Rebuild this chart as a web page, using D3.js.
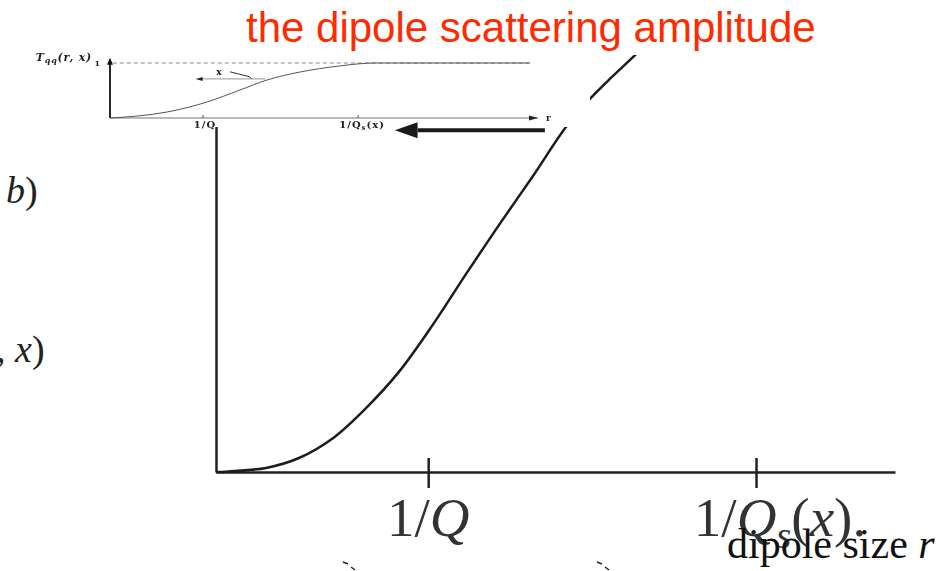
<!DOCTYPE html>
<html>
<head>
<meta charset="utf-8">
<script src="https://cdn.jsdelivr.net/npm/d3@7"></script>
<style>
  body { margin: 0; background: #fff; }
  svg { display: block; }
</style>
</head>
<body>
<script>
// Dipole scattering amplitude N(r, x) as a function of the dipole size r.
const mainR = [0, 0.047, 0.236, 0.391, 0.551, 0.707, 0.862, 1.023, 1.178, 1.334, 1.494, 1.650, 1.758, 1.866, 1.975, 2.092];
const mainN = [0, 0.001, 0.012, 0.041, 0.099, 0.187, 0.293, 0.432, 0.579, 0.723, 0.866, 1.010, 1.089, 1.156, 1.220, 1.290];
const mainTicks = [1, 2.545];
// tick labels as (text, style) runs: n = upright, i = italic, s = subscript
const mainTickLabels = [
  [["1/", "n"], ["Q", "i"]],
  [["1/", "n"], ["Q", "i"], ["s", "s"], ["(", "n"], ["x", "i"], [").", "n"]]
];

// Small panel: T_qq(r, x) saturating at 1
const insetR = [0, 0.613, 1.043, 1.397, 1.688, 2.042, 2.462, 2.849, 4.516];
const insetT = [0, 0.109, 0.291, 0.509, 0.691, 0.836, 0.945, 1.0, 1.0];
const insetTicks = [1, 2.667];
const insetTickLabels = [
  [["1/", "n"], ["Q", "n"]],
  [["1/", "n"], ["Q", "n"], ["s", "s"], ["(x)", "n"]]
];

const W = 947, H = 571;
const svg = d3.select("body").append("svg")
  .attr("width", W).attr("height", H)
  .style("font-family", "'Liberation Serif', 'Times New Roman', serif");

const x = d3.scaleLinear().domain([0, 3.2]).range([216, 895]);
const y = d3.scaleLinear().domain([0, 1.03]).range([472, 120]);

function richText(sel, runs, size, subShift) {
  let shifted = false;
  runs.forEach(([t, st]) => {
    const ts = sel.append("tspan").text(t);
    if (st === "i") ts.attr("font-style", "italic");
    if (st === "s") {
      ts.attr("font-style", "italic").attr("font-size", size * 0.7).attr("dy", subShift);
      shifted = true;
    } else if (shifted) {
      ts.attr("dy", -subShift);
      shifted = false;
    }
  });
}

// ---- main plot ----
const main = svg.append("g");

const xAxis = main.append("g")
  .attr("transform", `translate(0,${y(0)})`)
  .call(d3.axisBottom(x).tickValues(mainTicks).tickSizeInner(16).tickSizeOuter(0).tickFormat(() => ""));
xAxis.select(".domain").attr("stroke", "#222").attr("stroke-width", 2.5);
xAxis.selectAll(".tick line").attr("y1", -14).attr("y2", 16)
  .attr("stroke", "#222").attr("stroke-width", 2.5);

const yAxis = main.append("g")
  .attr("transform", `translate(${x(0)},0)`)
  .call(d3.axisLeft(y).tickValues([]).tickSizeOuter(0));
yAxis.select(".domain").attr("stroke", "#222").attr("stroke-width", 2.5);

const line = d3.line()
  .x((d, i) => x(mainR[i]))
  .y((d, i) => y(mainN[i]))
  .curve(d3.curveCatmullRom.alpha(0.5));
main.append("path")
  .datum(mainN)
  .attr("d", line)
  .attr("fill", "none")
  .attr("stroke", "#1c1c1c")
  .attr("stroke-width", 2.5);

// tick labels
const labelDx = [0, 24];
mainTicks.forEach((t, k) => {
  const txt = main.append("text")
    .attr("x", x(t) + labelDx[k])
    .attr("y", 536)
    .attr("text-anchor", "middle")
    .attr("font-size", 55)
    .attr("fill", "#333");
  richText(txt, mainTickLabels[k], 55, 12);
});

// axis title
const xt = svg.append("text")
  .attr("x", 727).attr("y", 558)
  .attr("font-size", 42).attr("fill", "#111");
xt.append("tspan").text("dipole size ");
xt.append("tspan").attr("font-style", "italic").text("r");

// fragments of the y-axis label at the left edge
const lb = svg.append("text").attr("x", 6).attr("y", 203).attr("font-size", 38).attr("fill", "#222");
lb.append("tspan").attr("font-style", "italic").text("b");
lb.append("tspan").text(")");
const lx = svg.append("text").attr("x", -4).attr("y", 362).attr("font-size", 38).attr("fill", "#222");
lx.append("tspan").text(", ");
lx.append("tspan").attr("font-style", "italic").text("x");
lx.append("tspan").text(")");

// small stray strokes at the bottom
[[343, 351], [597, 605]].forEach(([a, b]) => {
  svg.append("line").attr("x1", a).attr("y1", 562).attr("x2", a + 5).attr("y2", 564)
    .attr("stroke", "#222").attr("stroke-width", 1.5);
  svg.append("line").attr("x1", b).attr("y1", 567).attr("x2", b + 4).attr("y2", 570)
    .attr("stroke", "#222").attr("stroke-width", 1.5);
});

// ---- small panel ----
const xi = d3.scaleLinear().domain([0, 4.6]).range([110, 538]);
const yi = d3.scaleLinear().domain([0, 1]).range([118, 63]);

const inset = svg.append("g");
inset.append("rect").attr("x", 0).attr("y", 44).attr("width", 590).attr("height", 83).attr("fill", "#fff");

const ig = inset.append("g")
  .attr("font-family", "'DejaVu Serif', serif")
  .attr("font-weight", "bold")
  .style("filter", "blur(0.3px)");

// saturation level
ig.append("line")
  .attr("x1", xi(0.03)).attr("x2", xi(4.5))
  .attr("y1", yi(1)).attr("y2", yi(1))
  .attr("stroke", "#888").attr("stroke-width", 1).attr("stroke-dasharray", "4,3");

// axes with arrows
ig.append("line").attr("x1", xi(0)).attr("x2", xi(4.6)).attr("y1", yi(0)).attr("y2", yi(0))
  .attr("stroke", "#777").attr("stroke-width", 1.2);
ig.append("path")
  .attr("d", `M${xi(4.6)},${yi(0)} l-9,-2.5 l0,5 z`).attr("fill", "#222");
ig.append("line").attr("x1", xi(0)).attr("x2", xi(0)).attr("y1", yi(0)).attr("y2", yi(1.06))
  .attr("stroke", "#111").attr("stroke-width", 1.8);
ig.append("path")
  .attr("d", `M${xi(0)},${yi(1.06) - 2} l-3,7 l6,0 z`).attr("fill", "#111");

// ticks
insetTicks.forEach(t => {
  ig.append("line").attr("x1", xi(t)).attr("x2", xi(t)).attr("y1", yi(0) - 3).attr("y2", yi(0))
    .attr("stroke", "#555").attr("stroke-width", 1);
});
insetTicks.forEach((t, k) => {
  const tx = ig.append("text").attr("x", xi(t) + (k ? 4 : 2)).attr("y", 128)
    .attr("text-anchor", "middle").attr("font-size", 10).attr("letter-spacing", 1)
    .attr("fill", "#222");
  richText(tx, insetTickLabels[k], 10, 2);
});
ig.append("text").attr("x", 546).attr("y", 121).attr("font-size", 9).attr("fill", "#222").text("r");

// curve
const iline = d3.line()
  .x((d, i) => xi(insetR[i]))
  .y((d, i) => yi(insetT[i]))
  .curve(d3.curveMonotoneX);
ig.append("path").datum(insetT).attr("d", iline)
  .attr("fill", "none").attr("stroke", "#555").attr("stroke-width", 1);

// axis label T_qq(r, x) and level 1
const tl = ig.append("text").attr("x", 92).attr("y", 61).attr("text-anchor", "end")
  .attr("font-size", 11).attr("font-style", "italic").attr("letter-spacing", 0.8).attr("fill", "#222");
tl.append("tspan").text("T");
tl.append("tspan").attr("font-size", 8).attr("dy", 2).text("qq");
tl.append("tspan").attr("dy", -2).text("(r, x)");
ig.append("text").attr("x", 100).attr("y", 66).attr("text-anchor", "end")
  .attr("font-size", 8).attr("fill", "#222").text("1");

// evolution arrow in x
ig.append("line").attr("x1", xi(1.67)).attr("x2", xi(0.96)).attr("y1", yi(0.71)).attr("y2", yi(0.71))
  .attr("stroke", "#aaa").attr("stroke-width", 1.3);
ig.append("path").attr("d", `M${xi(0.92)},${yi(0.71)} l7,-2 l0,4 z`).attr("fill", "#222");
ig.append("text").attr("x", xi(1.17)).attr("y", yi(0.78)).attr("text-anchor", "middle")
  .attr("font-size", 9).attr("fill", "#222").text("x");
ig.append("path").attr("d", `M${xi(1.29)},${yi(0.84)} L${xi(1.5)},${yi(0.75)} l2,2`)
  .attr("fill", "none").attr("stroke", "#333").attr("stroke-width", 1);

// ---- title (drawn over the panel so descenders stay visible) ----
svg.append("rect").attr("x", 240).attr("y", 0).attr("width", 580).attr("height", 55).attr("fill", "#fff");
svg.append("text")
  .attr("x", 246).attr("y", 42)
  .attr("font-family", "'Liberation Sans', Arial, Helvetica, sans-serif")
  .attr("font-size", 42)
  .attr("fill", "#ff2a00")
  .text("the dipole scattering amplitude");

// ---- arrow pointing from the saturation scale towards 1/Q ----
const ay = y(1.0);
svg.append("line").attr("x1", x(1.55)).attr("x2", x(0.95)).attr("y1", ay).attr("y2", ay)
  .attr("stroke", "#1a1a1a").attr("stroke-width", 4);
svg.append("path").attr("d", `M${x(0.843)},${ay} L${x(0.95)},${ay - 8} L${x(0.95)},${ay + 8} Z`)
  .attr("fill", "#1a1a1a");
</script>
</body>
</html>
